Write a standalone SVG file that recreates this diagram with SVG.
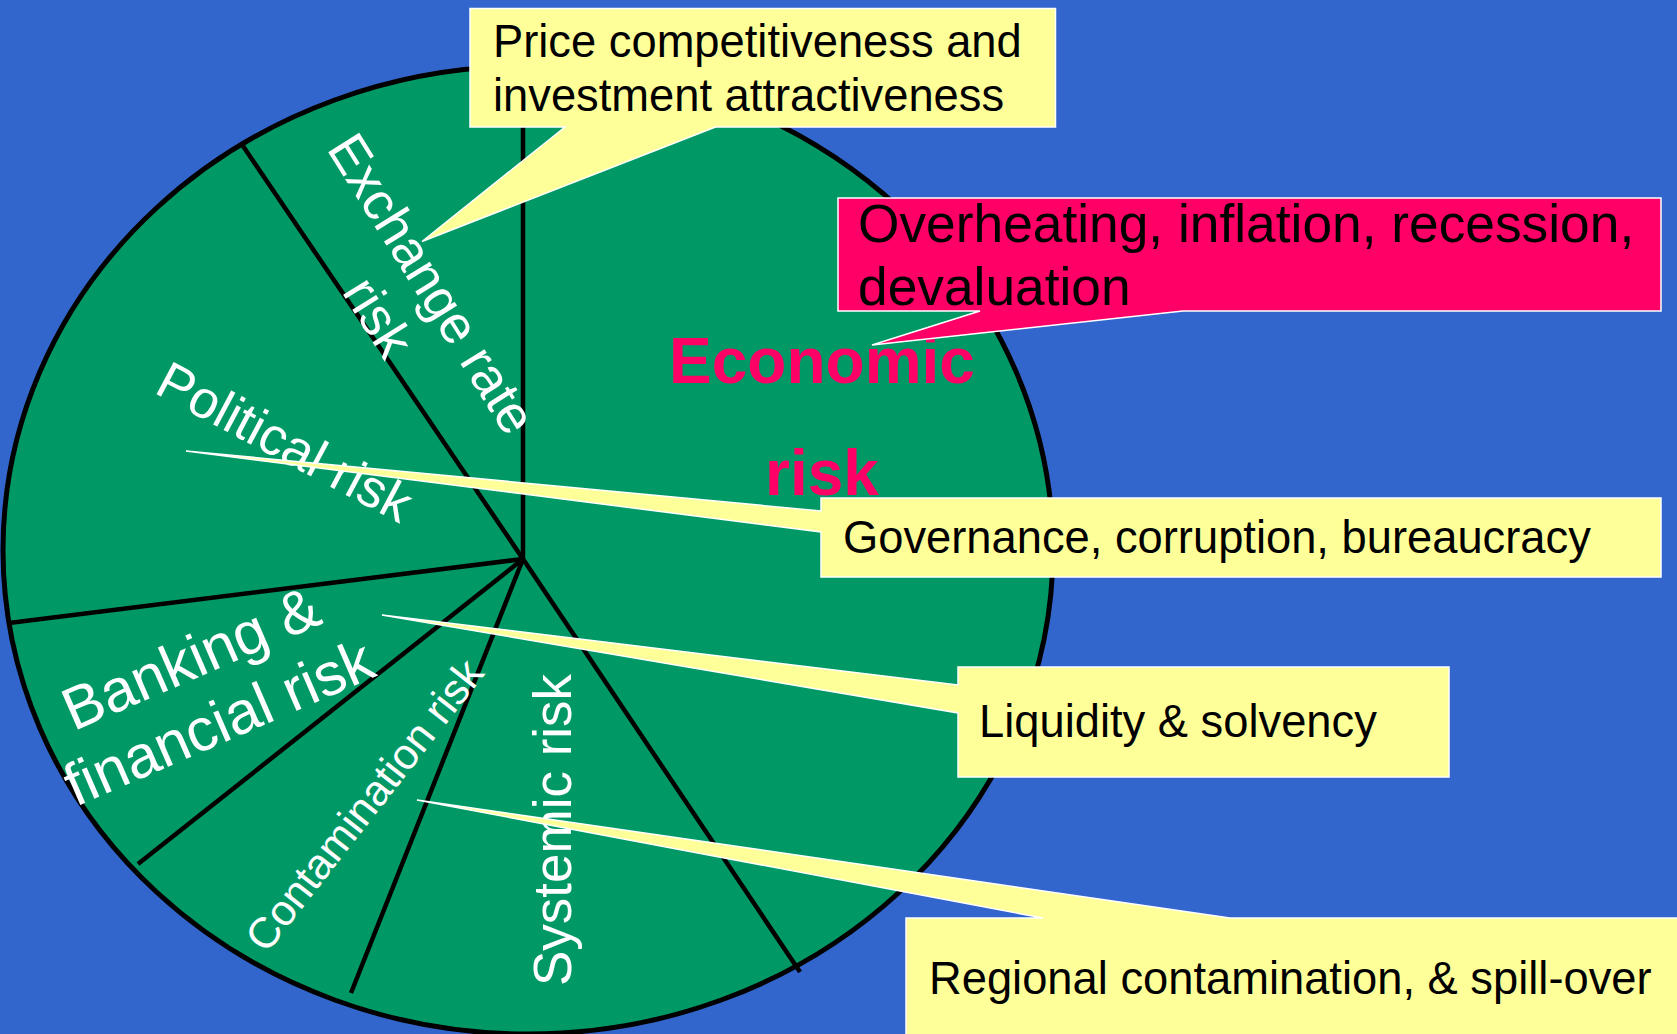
<svg xmlns="http://www.w3.org/2000/svg" width="1677" height="1034" viewBox="0 0 1677 1034">
<style>
.lbl{font-family:"Liberation Sans",Arial,sans-serif;fill:#fff;text-anchor:middle}
.box{font-family:"Liberation Sans",Arial,sans-serif;fill:#000}
.call{stroke:#fff;stroke-width:1.5;stroke-linejoin:miter}
.sep{stroke:#000;stroke-width:4.5;fill:none}
</style>
<rect x="0" y="0" width="1677" height="1034" fill="#3366CC"/>
<g id="pie">
<ellipse cx="528" cy="550" rx="525" ry="484" fill="#009966" stroke="#000" stroke-width="5"/>
</g>
<g id="connectors">
<line class="sep" x1="523" y1="559" x2="523" y2="66"/>
<line class="sep" x1="523" y1="559" x2="243" y2="146"/>
<line class="sep" x1="523" y1="559" x2="9" y2="623" stroke-width="6"/>
<line class="sep" x1="523" y1="559" x2="138" y2="864"/>
<line class="sep" x1="523" y1="559" x2="351" y2="993"/>
<line class="sep" x1="523" y1="559" x2="800" y2="972"/>
</g>
<g id="exchange">
<text class="lbl" font-size="53" transform="translate(416.5,293.4) rotate(58)"><tspan x="0" y="0">Exchange rate</tspan><tspan x="0" y="63">risk</tspan></text>
</g>
<g id="political">
<text class="lbl" font-size="53" transform="translate(276.3,458) rotate(28)" x="0" y="0">Political risk</text>
</g>
<g id="banking">
<text class="lbl" font-size="60" transform="translate(199,677) rotate(-23.5)"><tspan x="0" y="0">Banking &amp;</tspan><tspan x="0" y="70">financial risk</tspan></text>
</g>
<g id="contamination">
<text class="lbl" font-size="43" transform="translate(375.8,814.2) rotate(-52)" x="0" y="0">Contamination risk</text>
</g>
<g id="systemic">
<text class="lbl" font-size="53" transform="translate(571,830) rotate(-90)" x="0" y="0">Systemic risk</text>
</g>
<g id="economic">
<text font-family="Liberation Sans, Arial, sans-serif" font-weight="bold" font-size="64" fill="#FF0066" text-anchor="middle"><tspan x="822" y="383">Economic</tspan><tspan x="822" y="495">risk</tspan></text>
</g>
<g id="callout-price">
<path class="call" fill="#FFFF99" d="M470,8.5 H1055.5 V127 H715.5 L422,241.5 L565,127 H470 Z"/>
<text class="box" font-size="45.3"><tspan x="493" y="57">Price competitiveness and</tspan><tspan x="493" y="111">investment attractiveness</tspan></text>
</g>
<g id="callout-economic">
<path class="call" fill="#FF0066" d="M838,198 H1661 V311 H1183 L872,345 L980,311 H838 Z"/>
<text class="box" font-size="53.3"><tspan x="858" y="242">Overheating, inflation, recession,</tspan><tspan x="858" y="305">devaluation</tspan></text>
</g>
<g id="callout-governance">
<path class="call" fill="#FFFF99" d="M821,498 H1661 V577 H821 V532 L186,451 L821,511 Z"/>
<text class="box" font-size="45.3" x="843" y="553">Governance, corruption, bureaucracy</text>
</g>
<g id="callout-liquidity">
<path class="call" fill="#FFFF99" d="M958,667 H1449 V777 H958 V713 L382,615 L958,685 Z"/>
<text class="box" font-size="45.3" x="979" y="737">Liquidity &amp; solvency</text>
</g>
<g id="callout-regional">
<path class="call" fill="#FFFF99" d="M906,918 H1043 L417,800 L1230,918 H1680 V1040 H906 Z"/>
<text class="box" font-size="45.3" x="929" y="994">Regional contamination, &amp; spill-over</text>
</g>
</svg>
